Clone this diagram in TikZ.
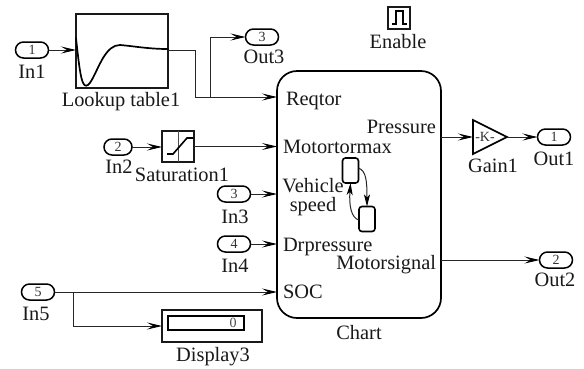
\documentclass[tikz,border=0pt]{standalone}
\usepackage{fontspec}
\setmainfont{Liberation Serif}
\usetikzlibrary{arrows.meta,shapes.misc,calc}
\tikzset{
  lbl/.style={inner sep=0pt,outer sep=0pt,font=\fontsize{20.4}{19}\selectfont,text=black!90},
  port/.style={rounded rectangle,draw=black,line width=1.5pt,minimum width=33pt,minimum height=16pt,inner sep=0pt,outer sep=0pt,font=\fontsize{14}{14}\selectfont,text=black!80},
  blockbox/.style={rectangle,draw=black!90,line width=1.7pt,inner sep=0pt,outer sep=0pt},
  statebox/.style={rectangle,rounded corners=3pt,draw=black,line width=1.6pt,minimum width=16pt,minimum height=25pt,inner sep=0pt,outer sep=0pt},
  wire/.style={draw=black!85,line width=0.9pt},
  arr/.style={wire,-{Stealth[length=15pt,width=7pt,inset=6pt,black]}},
  sarr/.style={draw=black!85,line width=1pt,-{Stealth[length=12pt,width=6pt,inset=3pt,black]}},
}
\begin{document}
\begin{tikzpicture}[x=1pt,y=-1pt]
\useasboundingbox (0,0) rectangle (584,368);
\fill[white] (0,0) rectangle (584,368);

% blocks
\node[blockbox,minimum width=92pt,minimum height=74pt] (lut) at (122,51) {};
\node[blockbox,minimum width=32pt,minimum height=31pt] (sat) at (178,146.5) {};
\node[blockbox,minimum width=100pt,minimum height=32pt] (disp) at (212,326) {};
\node[rectangle,draw=black,line width=1.4pt,minimum width=76pt,minimum height=14pt,inner sep=0pt,outer sep=0pt] (dispin) at (206,323) {};
\node[inner sep=0pt,font=\fontsize{14}{14}\selectfont,text=black!70] (dispval) at (233,323) {0};
\node[rectangle,rounded corners=20pt,draw=black,line width=1.7pt,minimum width=164pt,minimum height=247pt,inner sep=0pt,outer sep=0pt] (chart) at (359,194.5) {};
\node[blockbox,minimum width=22pt,minimum height=22pt] (en) at (399,18) {};
\node[inner sep=0pt,outer sep=0pt,minimum width=34pt,minimum height=34pt] (gain) at (490,137) {};
\draw[line width=1.6pt,line join=miter] (gain.north west) -- (gain.east) -- (gain.south west) -- cycle;
\node[inner sep=0pt,font=\fontsize{14}{14}\selectfont,text=black!80] (k) at (485,137) {-K-};

% ports
\node[port] (in1) at (32,50) {1};
\node[port,minimum width=28pt] (in2) at (118,147) {2};
\node[port] (in3) at (234,194) {3};
\node[port] (in4) at (234,244) {4};
\node[port] (in5) at (38,292) {5};
\node[port] (out3) at (262,37) {3};
\node[port] (out1) at (554,137) {1};
\node[port] (out2) at (556,260) {2};

% state boxes
\node[statebox] (s1) at (350.5,170.5) {};
\node[statebox] (s2) at (367,219) {};

% block icons
\draw[line width=1.7pt,line cap=round,line join=round] (lut.west |- 0,38) .. controls (79,65) and (81,86) .. (86,85.7)
  .. controls (91,85.5) and (95,72) .. (103,58) .. controls (108,50) and (113,45) .. (120,45)
  .. controls (133,46) and (148,49) .. (lut.east |- 0,49);
\draw[line width=0.8pt,draw=black!70] (sat.north) -- (sat.south);
\draw[line width=1.6pt] (167,154) -- (173,154) -- (187,138) -- (193,138);
\draw[line width=1.6pt,line join=miter] (392,24) -- (396,24) -- (396,11) -- (403,11) -- (403,24) -- (407,24);

% port coordinates on the chart
\coordinate (c1) at (chart.west |- 0,97);
\coordinate (c2) at (chart.west |- 0,146.5);
\coordinate (c3) at (chart.west |- 0,194);
\coordinate (c4) at (chart.west |- 0,244);
\coordinate (c5) at (chart.west |- 0,292);
\coordinate (lutout) at (lut.east |- 0,50);
\coordinate (j1) at (195,50);
\coordinate (j2) at (195,97);
\coordinate (j3) at (210,97);
\coordinate (j4) at (210,37);
\coordinate (j5) at (73,292);
\coordinate (j6) at (73,326);

% connectors
\draw[arr] (in1.east) -- (lut.west |- in1.east);
\draw[wire] (lutout) -- (j1) -- (j2) -- (j3);
\draw[arr] (j3) -- (c1);
\draw[arr] (j3) -- (j4) -- (out3.west);
\draw[arr] (in2.east) -- (sat.west |- in2.east);
\draw[arr] (sat.east) -- (c2);
\draw[arr] (in3.east) -- (c3);
\draw[arr] (in4.east) -- (c4);
\draw[arr] (in5.east) -- (c5);
\draw[arr] (j5) -- (j6) -- (disp.west);
\coordinate (cout1) at (chart.east |- 0,137);
\coordinate (cout2) at (chart.east |- 0,260);
\draw[arr] (cout1) -- (gain.west);
\draw[arr] (gain.east) -- (out1.west);
\draw[arr] (cout2) -- (out2.west);
\draw[sarr] (s1.east |- 0,168) .. controls (366,171) and (367,180) .. (s2.north);
\draw[sarr] (s2.west |- 0,220) .. controls (351,218) and (349,205) .. (s1.south);

% labels
\node[lbl] (tin1) at (32,72) {In1};
\node[lbl] (tlut) at (121,102) {Lookup table1};
\node[lbl] (tout3) at (264,57) {Out3};
\node[lbl] (ten) at (398,42) {Enable};
\node[lbl] (tin2) at (119,167) {In2};
\node[lbl] (tsat) at (182,174.5) {Saturation1};
\node[lbl] (tin3) at (235,217) {In3};
\node[lbl] (tin4) at (235,266) {In4};
\node[lbl] (tin5) at (36,314) {In5};
\node[lbl] (tdisp) at (213,357) {Display3};
\node[lbl] (tchart) at (359,333) {Chart};
\node[lbl] (tgain) at (493,166) {Gain1};
\node[lbl] (tout1) at (554,159) {Out1};
\node[lbl] (tout2) at (555,280) {Out2};
\node[lbl,anchor=base west] (t1) at (286,105) {Reqtor};
\node[lbl,anchor=base west] (t2) at (283,153) {Motortormax};
\node[lbl,align=center] (t3) at (313,197) {Vehicle\\speed};
\node[lbl,anchor=base west] (t4) at (283,251) {Drpressure};
\node[lbl,anchor=base west] (t5) at (283,298) {SOC};
\node[lbl,anchor=base east] (t6) at (436,133) {Pressure};
\node[lbl,anchor=base east] (t7) at (436,269) {Motorsignal};
\end{tikzpicture}
\end{document}
